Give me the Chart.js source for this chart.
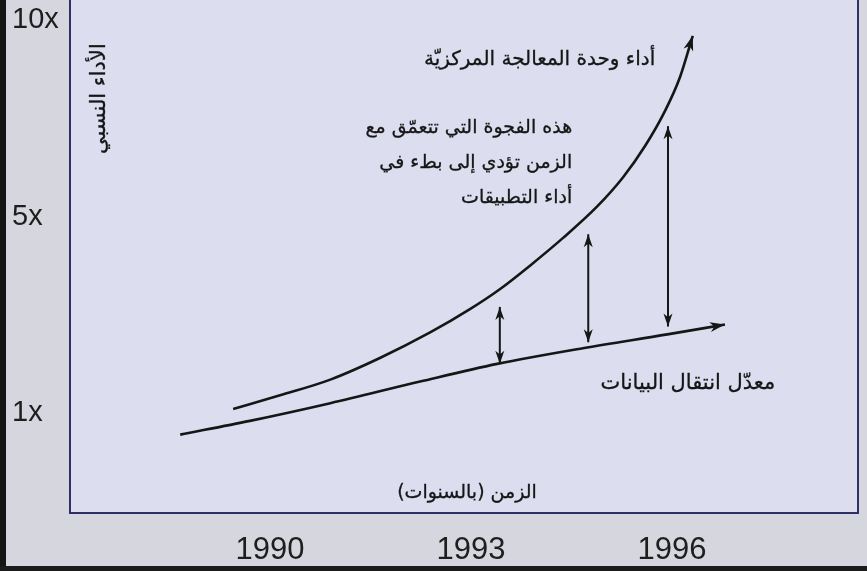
<!DOCTYPE html>
<html>
<head>
<meta charset="utf-8">
<script src="https://cdn.jsdelivr.net/npm/chart.js@4.4.1/dist/chart.umd.min.js"></script>
<style>
  html, body { margin: 0; padding: 0; background: #d6d7de; }
  #wrap { position: relative; width: 867px; height: 571px; overflow: hidden; }
  .frameL { position: absolute; left: 0; top: 0; width: 6px; height: 571px; background: #151515; }
  .frameB { position: absolute; left: 0; bottom: 0; width: 867px; height: 5px; background: #1b1b1b; }
</style>
</head>
<body>
<div id="wrap">
  <canvas id="chart" width="867" height="571"></canvas>
  <div class="frameL"></div>
  <div class="frameB"></div>
</div>
<script>
// x axis years, y axis uses index 0..2 for 1x / 5x / 10x
const yearTicks = [1990, 1993, 1996];
const yTickLabels = ['1x', '5x', '10x'];

// CPU performance curve
const cpuYears = [1989.45, 1990.15, 1990.90, 1991.64, 1992.39, 1992.99, 1993.43, 1993.88, 1994.37, 1994.88, 1995.27, 1995.60, 1995.90, 1996.12, 1996.31];
const cpuPerf  = [0.02, 0.09, 0.17, 0.28, 0.41, 0.53, 0.63, 0.75, 0.89, 1.05, 1.20, 1.36, 1.54, 1.71, 1.92];

// data transfer rate line
const busYears = [1988.66, 1989.70, 1990.90, 1992.24, 1993.39, 1994.67, 1995.93, 1996.79];
const busRate  = [-0.11, -0.04, 0.05, 0.16, 0.25, 0.33, 0.40, 0.45];

// gap arrows between the two
const gapYears = [1993.43, 1994.75, 1995.94];
const gapLow   = [0.25, 0.36, 0.44];
const gapHigh  = [0.54, 0.91, 1.46];

const cpuLabel = 'أداء وحدة المعالجة المركزيّة';
const gapLabel = ['هذه الفجوة التي تتعمّق مع', 'الزمن تؤدي إلى بطء في', 'أداء التطبيقات'];
const busLabel = 'معدّل انتقال البيانات';
const xTitle = 'الزمن (بالسنوات)';
const yTitle = 'الأداء النسبي';

const INK = '#161616';
const AR_FONT = "'DejaVu Sans', 'Noto Sans', sans-serif";

const datasets = [
  { data: cpuYears.map((x, i) => ({ x, y: cpuPerf[i] })), borderWidth: 2.6, arrow: 'end' },
  { data: busYears.map((x, i) => ({ x, y: busRate[i] })), borderWidth: 2.6, arrow: 'end' }
];
gapYears.forEach((yr, i) => {
  datasets.push({ data: [{ x: yr, y: gapLow[i] }, { x: yr, y: gapHigh[i] }], borderWidth: 2, arrow: 'both' });
});
datasets.forEach(d => {
  d.borderColor = INK;
  d.pointRadius = 0;
  d.fill = false;
  d.cubicInterpolationMode = 'monotone';
});

function head(ctx, x, y, fx, fy, len, wid) {
  const a = Math.atan2(y - fy, x - fx);
  ctx.save();
  ctx.translate(x, y);
  ctx.rotate(a);
  ctx.beginPath();
  ctx.moveTo(0, 0);
  ctx.lineTo(-len, wid / 2);
  ctx.lineTo(-len * 0.72, 0);
  ctx.lineTo(-len, -wid / 2);
  ctx.closePath();
  ctx.fill();
  ctx.restore();
}

// slightly heavier text, the print is darker than plain DejaVu
function ink(ctx, text, x, y) {
  ctx.fillText(text, x, y);
  ctx.strokeText(text, x, y);
}

const framePlugin = {
  id: 'frame',
  beforeDraw(chart) {
    const { ctx, chartArea: a } = chart;
    ctx.save();
    ctx.fillStyle = '#dcdeef';
    ctx.fillRect(a.left, a.top, a.right - a.left, a.bottom - a.top);
    ctx.restore();
  },
  afterDraw(chart) {
    const { ctx, chartArea: a } = chart;
    ctx.save();
    ctx.strokeStyle = '#2f2f6a';
    ctx.lineWidth = 2;
    ctx.beginPath();
    ctx.moveTo(a.left, a.top - 2);
    ctx.lineTo(a.left, a.bottom);
    ctx.lineTo(a.right, a.bottom);
    ctx.lineTo(a.right, a.top - 2);
    ctx.stroke();
    ctx.restore();
  }
};

const notePlugin = {
  id: 'notes',
  afterDatasetsDraw(chart) {
    const { ctx, scales: { x, y } } = chart;
    ctx.save();
    ctx.fillStyle = INK;
    chart.data.datasets.forEach(ds => {
      const pts = ds.data;
      const n = pts.length;
      const px = p => [x.getPixelForValue(p.x), y.getPixelForValue(p.y)];
      const [ex, ey] = px(pts[n - 1]);
      const [bx, by] = px(pts[n - 2]);
      if (ds.arrow === 'end') head(ctx, ex, ey, bx, by, 15, 10);
      if (ds.arrow === 'both') {
        head(ctx, ex, ey, bx, by, 13, 9);
        head(ctx, bx, by, ex, ey, 13, 9);
      }
    });

    ctx.strokeStyle = INK;
    ctx.lineWidth = 0.3;
    ctx.direction = 'rtl';
    ctx.textBaseline = 'middle';
    ctx.textAlign = 'right';
    ctx.font = '20px ' + AR_FONT;
    ink(ctx, cpuLabel, x.getPixelForValue(1995.75), y.getPixelForValue(1.80));
    ctx.font = '19px ' + AR_FONT;
    const gx = x.getPixelForValue(1994.51);
    const gy = y.getPixelForValue(1.45);
    gapLabel.forEach((line, i) => ink(ctx, line, gx, gy + i * 35));
    ctx.font = '21px ' + AR_FONT;
    ink(ctx, busLabel, x.getPixelForValue(1997.54), y.getPixelForValue(0.15));

    ctx.textAlign = 'center';
    ctx.font = '19px ' + AR_FONT;
    ink(ctx, xTitle, x.getPixelForValue(1992.94), y.getPixelForValue(-0.41));

    ctx.font = '21px ' + AR_FONT;
    ctx.translate(x.getPixelForValue(1987.46), y.getPixelForValue(1.60));
    ctx.rotate(-Math.PI / 2);
    ink(ctx, yTitle, 0, 0);
    ctx.restore();
  }
};

new Chart(document.getElementById('chart').getContext('2d'), {
  type: 'line',
  data: { datasets },
  options: {
    responsive: false,
    animation: false,
    layout: { padding: { left: 12, right: 9, top: 0, bottom: 0 } },
    plugins: { legend: { display: false }, tooltip: { enabled: false } },
    scales: {
      x: {
        type: 'linear',
        min: 1987.015,
        max: 1998.776,
        afterBuildTicks: s => { s.ticks = yearTicks.map(v => ({ value: v })); },
        afterFit: s => { s.height = 58; s.paddingLeft = 0; s.paddingRight = 0; },
        grid: { display: false, drawTicks: false },
        border: { display: false },
        ticks: {
          padding: 19,
          color: '#1e1e1e',
          font: { family: "'Liberation Sans', Arial, sans-serif", size: 31 },
          callback: v => String(v)
        }
      },
      y: {
        type: 'linear',
        min: -0.509,
        max: 2.102,
        afterBuildTicks: s => { s.ticks = yTickLabels.map((t, i) => ({ value: i })); },
        afterFit: s => { s.width = 58; s.paddingTop = 0; s.paddingBottom = 0; },
        grid: { display: false, drawTicks: false },
        border: { display: false },
        ticks: {
          crossAlign: 'far',
          color: '#1e1e1e',
          font: { family: "'Liberation Sans', Arial, sans-serif", size: 29 },
          callback: v => yTickLabels[v]
        }
      }
    }
  },
  plugins: [framePlugin, notePlugin]
});
</script>
</body>
</html>
